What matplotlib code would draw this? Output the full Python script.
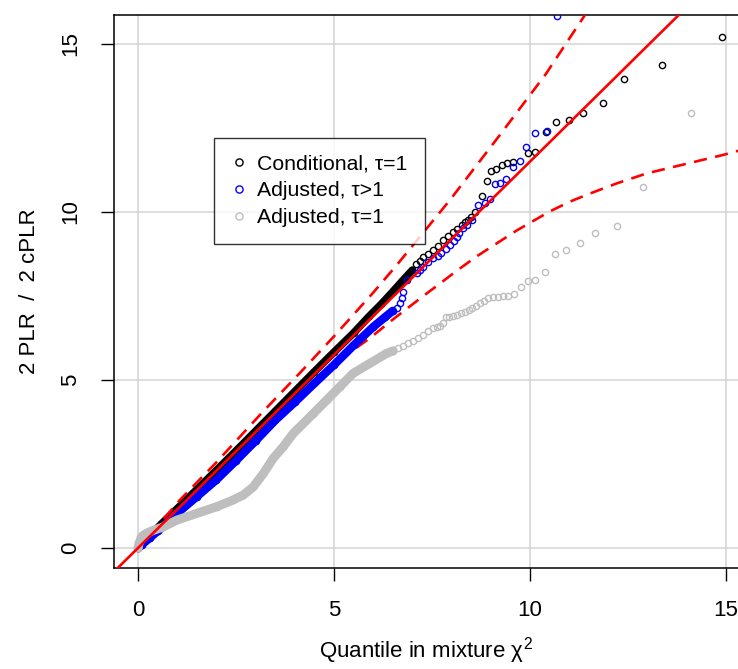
import numpy as np
import matplotlib.pyplot as plt

plt.rcParams['font.family'] = ['Liberation Sans', 'DejaVu Sans']
plt.rcParams['mathtext.fontset'] = 'custom'
plt.rcParams['mathtext.rm'] = 'Liberation Sans'
plt.rcParams['mathtext.it'] = 'Liberation Sans'

# Conditional, tau=1: dense body then the sparse upper tail
cond_x = [0.0, 0.1, 0.3, 0.6, 1.0, 1.5, 2.0, 2.5, 3.0, 3.5, 4.0, 4.5, 5.0, 5.5, 5.9, 6.2, 6.5, 6.8, 7.0]
cond_y = [0.0, 0.12, 0.36, 0.72, 1.17, 1.74, 2.31, 2.89, 3.48, 4.07, 4.66, 5.25, 5.83, 6.40, 6.90, 7.25, 7.63, 8.02, 8.27]
cond_tail_x = [7.1, 7.2, 7.28, 7.4, 7.53, 7.65, 7.79, 7.9, 8.04, 8.15, 8.26, 8.35, 8.43, 8.5, 8.6,
               8.77, 8.9, 9.0, 9.13, 9.28, 9.42, 9.57, 9.95, 10.14, 10.41, 10.66, 10.99, 11.34,
               11.85, 12.41, 13.37, 14.9]
cond_tail_y = [8.45, 8.55, 8.67, 8.75, 8.87, 9.0, 9.17, 9.28, 9.41, 9.5, 9.61, 9.7, 9.76, 9.85, 10.01,
               10.48, 10.93, 11.21, 11.28, 11.40, 11.45, 11.48, 11.77, 11.80, 12.39, 12.69, 12.75, 12.96,
               13.24, 13.95, 14.38, 15.21]

# Adjusted, tau>1
adjg_x = [0.0, 0.1, 0.3, 0.5, 1.0, 1.5, 2.0, 2.5, 3.0, 3.5, 4.0, 4.5, 5.0, 5.5, 6.0, 6.3, 6.5]
adjg_y = [0.0, 0.1, 0.3, 0.5, 1.03, 1.53, 2.03, 2.6, 3.19, 3.8, 4.34, 4.9, 5.45, 6.03, 6.58, 6.87, 7.06]
adjg_tail_x = [6.6, 6.68, 6.73, 6.77, 6.85, 7.11, 7.2, 7.28, 7.4, 7.53, 7.65, 7.74, 7.85, 7.96, 8.05,
               8.13, 8.2, 8.30, 8.4, 8.51, 8.68, 8.85, 8.98, 9.11, 9.23, 9.38, 9.56, 9.74, 9.91,
               10.14, 10.43, 10.70]
adjg_tail_y = [7.15, 7.28, 7.43, 7.63, 7.98, 8.18, 8.28, 8.37, 8.5, 8.62, 8.7, 8.77, 8.9, 9.02, 9.15,
               9.26, 9.38, 9.51, 9.62, 9.76, 10.21, 10.26, 10.38, 10.83, 10.85, 10.97, 11.33, 11.53, 11.92,
               12.36, 12.41, 15.83]

# Adjusted, tau=1
adj1_x = [0.0, 0.03, 0.09, 0.2, 0.31, 0.65, 0.99, 1.5, 2.01, 2.43, 2.69, 2.94, 3.2, 3.45, 3.71, 3.96,
          4.22, 4.47, 4.81, 5.15, 5.49, 5.92, 6.34, 6.51]
adj1_y = [0.0, 0.15, 0.34, 0.43, 0.49, 0.63, 0.83, 1.03, 1.23, 1.43, 1.58, 1.82, 2.22, 2.67, 3.02, 3.41,
          3.71, 4.0, 4.40, 4.80, 5.20, 5.50, 5.79, 5.87]
adj1_tail_x = [6.64, 6.77, 6.90, 7.02, 7.15, 7.28, 7.41, 7.52, 7.62, 7.70, 7.79, 7.86, 7.94, 8.03, 8.13,
               8.24, 8.35, 8.44, 8.53, 8.63, 8.72, 8.83, 8.94, 9.05, 9.18, 9.30, 9.45, 9.59, 9.77,
               9.94, 10.14, 10.37, 10.63, 10.91, 11.28, 11.66, 12.22, 12.89, 14.11]
adj1_tail_y = [5.94, 6.02, 6.09, 6.16, 6.24, 6.34, 6.47, 6.54, 6.59, 6.62, 6.69, 6.87, 6.88, 6.91, 6.94,
               6.98, 7.03, 7.08, 7.14, 7.21, 7.28, 7.35, 7.44, 7.46, 7.48, 7.50, 7.50, 7.55, 7.76,
               7.95, 7.99, 8.21, 8.74, 8.87, 9.07, 9.37, 9.59, 10.75, 12.95]

# reference line and pointwise envelope
ref_slope = 1.15
ref_intercept = 0.0
upper_x = [0.3, 1.07, 2.0, 3.11, 4.13, 5.0, 6.0, 6.6, 7.96, 9.23, 10.4, 11.4, 12.0]
upper_y = [0.38, 1.43, 2.55, 3.96, 5.21, 6.3, 7.6, 8.42, 10.36, 12.29, 14.1, 15.86, 17.0]
lower_x = [0.3, 1.0, 2.0, 3.0, 4.0, 5.0, 5.5, 5.92, 6.5, 7.19, 8.13, 8.64, 9.66, 10.51, 11.02, 11.53,
           12.21, 12.98, 14.93, 15.5]
lower_y = [0.3, 1.02, 2.02, 3.15, 4.3, 5.4, 5.9, 6.25, 6.8, 7.42, 8.25, 8.68, 9.45, 10.02, 10.31, 10.55,
           10.85, 11.15, 11.7, 11.88]

fig = plt.figure(figsize=(7.38, 6.69), dpi=100)
ax = fig.add_axes([114 / 738, 101 / 669, 624 / 738, 553 / 669])

ms = 4.5
mew = 1.0
series = [
    (cond_x, cond_y, cond_tail_x, cond_tail_y, 'black', 5.5, 3, 'Conditional, τ=1'),
    (adjg_x, adjg_y, adjg_tail_x, adjg_tail_y, '#0000FF', 6.0, 5, 'Adjusted, τ>1'),
    (adj1_x, adj1_y, adj1_tail_x, adj1_tail_y, '#BEBEBE', 6.5, 6, 'Adjusted, τ=1'),
]
handles = []
for dx, dy, tx, ty, col, lw, z, lab in series:
    # the body is so crowded that the circles merge into a solid band
    ax.plot(dx, dy, '-', color=col, lw=lw, solid_capstyle='round', zorder=z)
    ax.plot(dx, dy, 'o', mfc='none', mec=col, ms=ms, mew=mew, zorder=z)
    h, = ax.plot(tx, ty, 'o', mfc='none', mec=col, ms=ms, mew=mew, zorder=z, label=lab)
    handles.append(h)

xs = np.array([-1.0, 16.0])
ax.plot(xs, ref_intercept + ref_slope * xs, color='#FF0000', lw=1.9, zorder=7)
ax.plot(upper_x, upper_y, color='#FF0000', lw=1.9, dashes=(5, 3.2), zorder=4)
ax.plot(lower_x, lower_y, color='#FF0000', lw=1.9, dashes=(5, 3.2), zorder=4)

ax.set_xlim(-0.612, 15.306)
ax.set_ylim(-0.595, 15.863)
ax.set_xticks([0, 5, 10, 15])
ax.set_yticks([0, 5, 10, 15])
ax.grid(True, color='#D3D3D3', lw=1.1, zorder=0)
ax.set_axisbelow(True)

for side in ['left', 'bottom', 'top']:
    ax.spines[side].set_linewidth(1.1)
ax.spines['right'].set_visible(False)
ax.tick_params(length=9.4, width=1.0, labelsize=16, pad=14)
for lab in ax.get_yticklabels():
    lab.set_rotation(90)
    lab.set_va('center')

ax.set_xlabel(r'Quantile in mixture $\chi^2$', fontsize=16, va='center')
ax.xaxis.set_label_coords(0.5, -0.150)
ax.set_ylabel('2 PLR  /  2 cPLR', fontsize=16, va='center')
ax.yaxis.set_label_coords(-0.135, 0.5)

leg = ax.legend(handles=handles, loc='upper left', bbox_to_anchor=(0.160, 0.778),
                prop={'size': 15.3}, frameon=True, fancybox=False, edgecolor='black',
                handlelength=0.8, handletextpad=0.45, borderpad=0.8, labelspacing=0.36,
                borderaxespad=0, markerscale=1.15)
leg.get_frame().set_linewidth(1.0)
leg.set_zorder(10)

fig.savefig('out.png', dpi=100)
